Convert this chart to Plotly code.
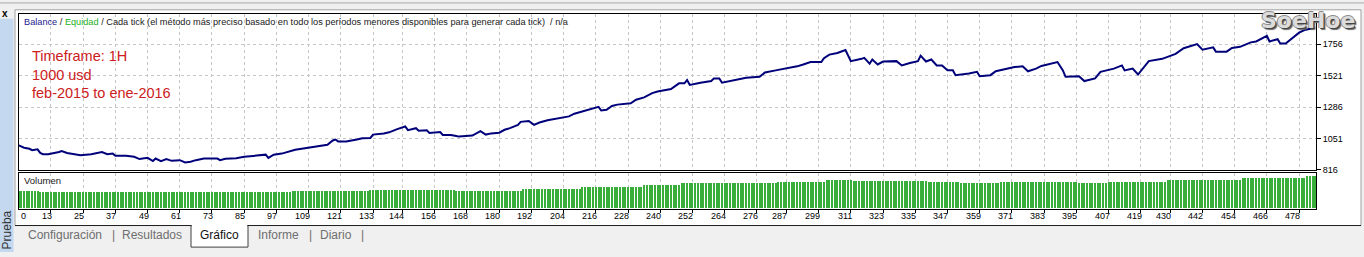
import plotly.graph_objects as go

W, H = 1364, 257

# ---------------- data ----------------
BAL_TRADE = [1, 3, 5, 6, 8, 9, 10, 12, 16, 17, 19, 23, 24, 28, 32, 34, 36, 37, 41, 44,
             46, 49, 51, 52, 54, 56, 58, 61, 63, 65, 67, 70, 75, 76, 78, 82, 85, 93, 94, 96,
             99, 104, 108, 112, 116, 118, 119, 120, 123, 127, 129, 132, 133, 137, 139, 142, 144, 145, 146, 149,
             150, 153, 154, 158, 159, 162, 164, 165, 170, 172, 173, 175, 177, 180, 182, 184, 187, 188, 191, 193,
             195, 198, 203, 206, 208, 213, 216, 217, 218, 220, 222, 224, 229, 231, 234, 237, 239, 244, 247, 249,
             250, 251, 255, 259, 260, 262, 263, 267, 272, 277, 279, 283, 287, 291, 293, 296, 300, 301, 303, 306,
             309, 311, 315, 316, 318, 319, 321, 323, 328, 330, 333, 336, 337, 339, 341, 343, 345, 347, 349, 350,
             355, 358, 359, 363, 365, 370, 372, 375, 377, 380, 382, 388, 390, 391, 396, 398, 402, 404, 409, 412,
             413, 416, 418, 422, 427, 432, 435, 440, 442, 446, 447, 451, 453, 456, 460, 462, 466, 467, 470, 471,
             473, 478, 480, 484]
BAL_VALUE = [1000, 982, 974, 963, 970, 943, 933, 933, 950, 957, 943, 933, 926, 933, 950, 933, 938, 921, 921, 914,
             897, 906, 882, 901, 882, 897, 884, 889, 872, 877, 889, 901, 901, 889, 899, 904, 914, 930, 906, 930,
             938, 967, 979, 992, 1004, 1036, 1043, 1029, 1029, 1043, 1053, 1055, 1080, 1089, 1097, 1121, 1138, 1141, 1113, 1128,
             1109, 1113, 1092, 1099, 1077, 1077, 1070, 1065, 1073, 1097, 1106, 1080, 1089, 1094, 1116, 1128, 1153, 1175, 1182, 1153,
             1170, 1187, 1207, 1216, 1236, 1267, 1285, 1287, 1260, 1265, 1294, 1304, 1314, 1341, 1358, 1390, 1402, 1421, 1463, 1463,
             1487, 1451, 1468, 1480, 1500, 1500, 1468, 1487, 1505, 1512, 1544, 1560, 1573, 1590, 1602, 1622, 1622, 1651, 1678, 1690,
             1712, 1629, 1646, 1653, 1610, 1641, 1604, 1626, 1629, 1597, 1615, 1629, 1670, 1626, 1641, 1597, 1597, 1560, 1560, 1524,
             1536, 1549, 1516, 1524, 1553, 1573, 1585, 1590, 1553, 1573, 1593, 1622, 1560, 1512, 1516, 1480, 1500, 1549, 1573, 1597,
             1560, 1573, 1529, 1629, 1646, 1683, 1725, 1756, 1714, 1732, 1700, 1700, 1727, 1736, 1769, 1776, 1817, 1776, 1793, 1761,
             1761, 1842, 1861, 1878]

# volume (lots) per trade, given as runs of equal bars: first trade, last trade, lots
VOL_START = [1, 9, 103, 132, 164, 189, 211, 234, 248, 252, 284, 302, 312, 337, 340, 352, 367, 396, 407, 429, 457, 481]
VOL_END = [8, 102, 131, 163, 188, 210, 233, 247, 251, 283, 301, 311, 336, 339, 351, 366, 395, 406, 428, 456, 480, 484]
VOL_LOTS = [0.51, 0.48, 0.52, 0.55, 0.53, 0.59, 0.65, 0.70, 0.75, 0.76, 0.80, 0.86, 0.81, 0.84, 0.79, 0.76, 0.79, 0.76, 0.79, 0.86, 0.92, 0.97]

Y_TICKS = [816, 1051, 1286, 1521, 1756]
X_TICKS = [0, 13, 25, 37, 49, 61, 73, 85, 97, 109, 121, 133, 144, 156, 168, 180, 192, 204, 216, 228,
           240, 252, 264, 276, 287, 299, 311, 323, 335, 347, 359, 371, 383, 395, 407, 419, 430, 442, 454, 466, 478]
INFO_LINES = ["Timeframe: 1H", "1000 usd", "feb-2015 to ene-2016"]
TABS = ["Configuración", "Resultados", "Gráfico", "Informe", "Diario"]
HEADER = ("<span style='color:#1a1a8c'>Balance</span> / <span style='color:#22b022'>Equidad</span>"
          " / Cada tick (el método más preciso basado en todo los períodos menores disponibles para generar cada tick)  / n/a")

# ---------------- helpers ----------------
def px(x):
    return x / W

def py(y):
    return 1 - y / H

vol_x, vol_y = [], []
for s, e, v in zip(VOL_START, VOL_END, VOL_LOTS):
    for t in range(s, e + 1):
        vol_x.append(t)
        vol_y.append(v)

SANS = "Liberation Sans, Arial, sans-serif"
GRID = "#c6c6c6"
XR = [1.1, 484.3]

fig = go.Figure()
fig.add_trace(go.Scatter(x=BAL_TRADE, y=BAL_VALUE, mode="lines",
                         line=dict(color="#00007a", width=2), xaxis="x", yaxis="y",
                         hoverinfo="skip", showlegend=False))
fig.add_trace(go.Bar(x=vol_x, y=vol_y, width=0.38, marker=dict(color="#3aae3a", line=dict(width=0)),
                     xaxis="x2", yaxis="y2", hoverinfo="skip", showlegend=False))

axis_common = dict(showline=True, mirror=True, linecolor="black", linewidth=1, zeroline=False)

fig.update_layout(
    width=W, height=H, margin=dict(l=0, r=0, t=0, b=0),
    paper_bgcolor="#f0f0f0", plot_bgcolor="white", bargap=0,
    xaxis=dict(domain=[px(19), px(1316)], range=XR, anchor="y", tickvals=X_TICKS[1:],
               showticklabels=False, ticks="", showgrid=True, gridcolor=GRID, griddash="3px,3px",
               gridwidth=1, **axis_common),
    yaxis=dict(domain=[py(173.5), py(14)], range=[814.5, 1983.2], anchor="x", side="right",
               tickvals=Y_TICKS, ticks="outside", ticklen=4, tickcolor="black",
               tickfont=dict(family=SANS, size=9, color="black"),
               showgrid=True, gridcolor=GRID, griddash="3px,3px", gridwidth=1, **axis_common),
    xaxis2=dict(domain=[px(19), px(1316)], range=XR, anchor="y2", tickvals=X_TICKS[1:],
                showticklabels=False, ticks="outside", ticklen=3, tickcolor="black",
                showgrid=True, gridcolor=GRID, griddash="3px,3px", gridwidth=1, **axis_common),
    yaxis2=dict(domain=[py(213.3), py(176)], range=[-0.048, 1.069], anchor="x2",
                showticklabels=False, ticks="", showgrid=False, **axis_common),
)

shapes = [
    # white tester window
    dict(type="rect", xref="paper", yref="paper", x0=px(15), x1=px(1361), y0=py(230), y1=py(10),
         fillcolor="white", line=dict(color="#a0a0a0", width=1), layer="below"),
    dict(type="line", xref="paper", yref="paper", x0=px(15), x1=px(1361), y0=py(230), y1=py(230),
         line=dict(color="#202020", width=1), layer="below"),
    # selected tab
    dict(type="rect", xref="paper", yref="paper", x0=px(191), x1=px(248), y0=py(252), y1=py(230.5),
         fillcolor="white", line=dict(color="#404040", width=1), layer="below"),
    dict(type="line", xref="paper", yref="paper", x0=px(191.8), x1=px(247.2), y0=py(230.5), y1=py(230.5),
         line=dict(color="white", width=2), layer="below"),
    # left blue strip
    dict(type="rect", xref="paper", yref="paper", x0=0, x1=px(13.5), y0=0, y1=py(19),
         fillcolor="#c4d8ef", line=dict(width=0), layer="below"),
    # top line of upper pane
    dict(type="line", xref="paper", yref="paper", x0=0, x1=1, y0=py(3), y1=py(3),
         line=dict(color="#a8a8a8", width=1), layer="below"),
]
fig.update_layout(shapes=shapes)

ann = []
ann.append(dict(xref="paper", yref="paper", x=px(22), y=py(22.5), xanchor="left", yanchor="middle",
                text=HEADER, showarrow=False, font=dict(family=SANS, size=9.2, color="#202020")))
for i, line in enumerate(INFO_LINES):
    ann.append(dict(xref="paper", yref="paper", x=px(29.5), y=py(57 + 19 * i), xanchor="left", yanchor="middle",
                    text=line, showarrow=False, font=dict(family=SANS, size=14.5, color="#cc2020")))
ann.append(dict(xref="paper", yref="paper", x=px(22), y=py(184), xanchor="left", yanchor="middle",
                text="Volumen", showarrow=False, font=dict(family=SANS, size=9.5, color="#202020")))
# x tick labels: first label sits at the left frame edge, others end at their grid line
ann.append(dict(xref="paper", yref="paper", x=px(19), y=py(220.5), xanchor="left", yanchor="middle",
                text=str(X_TICKS[0]), showarrow=False, font=dict(family=SANS, size=9, color="black")))
for L in X_TICKS[1:]:
    ann.append(dict(xref="x2", yref="paper", x=L, y=py(220.5), xanchor="right",
                    yanchor="middle", xshift=3, text=str(L), showarrow=False,
                    font=dict(family=SANS, size=9, color="black")))
# tabs
tab_cx = [65, 151.5, 219, 278.5, 336]
for name, cx in zip(TABS, tab_cx):
    ann.append(dict(xref="paper", yref="paper", x=px(cx), y=py(240), xanchor="center", yanchor="middle",
                    text=name, showarrow=False,
                    font=dict(family=SANS, size=12, color="#111111" if name == "Gráfico" else "#6e6e6e")))
for sx in [113, 310, 362]:
    ann.append(dict(xref="paper", yref="paper", x=px(sx), y=py(240), xanchor="center", yanchor="middle",
                    text="|", showarrow=False, font=dict(family=SANS, size=12, color="#6e6e6e")))
ann.append(dict(xref="paper", yref="paper", x=px(7), y=py(235), xanchor="center", yanchor="middle",
                text="Prueba", textangle=-90, showarrow=False, font=dict(family=SANS, size=12, color="#333333")))
ann.append(dict(xref="paper", yref="paper", x=px(5), y=py(13.5), xanchor="center", yanchor="middle",
                text="<b>x</b>", showarrow=False, font=dict(family=SANS, size=10, color="black")))
ann.append(dict(xref="paper", yref="paper", x=px(1308), y=py(20.5), xanchor="center", yanchor="middle",
                text="<b>SoeHoe</b>", showarrow=False,
                font=dict(family="DejaVu Sans", size=22, color="#dcdcdc",
                          shadow="1px 1px 0px #444444, -1px 0px 0px #8a8a8a, 0px -1px 0px #8a8a8a, 2px 2px 1px #6a6a6a")))
fig.update_layout(annotations=ann)

fig.write_html("out.html")
